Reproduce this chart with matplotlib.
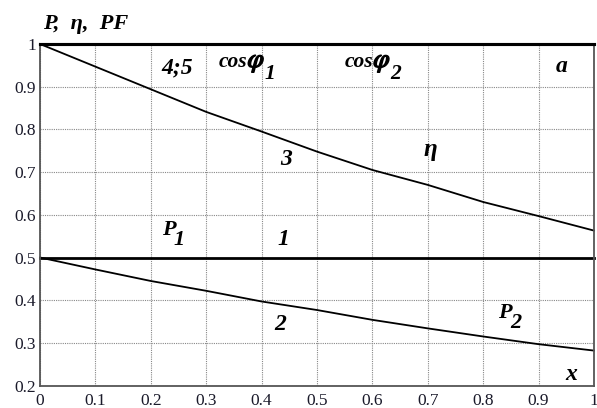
import matplotlib
matplotlib.use("Agg")
import matplotlib.pyplot as plt
import matplotlib.patheffects as pe
from matplotlib.transforms import offset_copy

x = [0.0, 0.1, 0.2, 0.3, 0.4, 0.5, 0.6, 0.7, 0.8, 0.9, 1.0]
eta = [1.0, 0.947, 0.894, 0.841, 0.795, 0.748, 0.705, 0.670, 0.630, 0.597, 0.563]
p2 = [0.5, 0.472, 0.445, 0.422, 0.397, 0.377, 0.354, 0.334, 0.315, 0.297, 0.282]
p1 = [0.5] * len(x)
pf = [1.0] * len(x)

xticks = [0, 0.1, 0.2, 0.3, 0.4, 0.5, 0.6, 0.7, 0.8, 0.9, 1]
xticklabels = ["0", "0.1", "0.2", "0.3", "0.4", "0.5", "0.6", "0.7", "0.8", "0.9", "1"]
yticks = [0.2, 0.3, 0.4, 0.5, 0.6, 0.7, 0.8, 0.9, 1]
yticklabels = ["0.2", "0.3", "0.4", "0.5", "0.6", "0.7", "0.8", "0.9", "1"]

plt.rcParams['mathtext.fontset'] = 'stix'

fig = plt.figure(figsize=(5.97, 4.08), dpi=100)
ax = fig.add_axes([40/597, 1 - 385.6/408, 554/597, (385.6 - 44)/408])

ax.plot(x, eta, color='black', lw=1.3, clip_on=False)
ax.plot(x, p2, color='black', lw=1.3, clip_on=False)
ax.plot(x, p1, color='black', lw=2.0, clip_on=False)
ax.plot(x, pf, color='black', lw=2.2, clip_on=False, zorder=5)

ax.set_xlim(0, 1)
ax.set_ylim(0.2, 1)
ax.set_xticks(xticks)
ax.set_xticklabels(xticklabels)
ax.set_yticks(yticks)
ax.set_yticklabels(yticklabels)
ax.tick_params(length=0, labelsize=12.5, labelcolor='#1a1a2a')
ax.tick_params(axis='x', pad=5)
ax.tick_params(axis='y', pad=3)
for lab in ax.get_xticklabels() + ax.get_yticklabels():
    lab.set_family('Liberation Serif')
ax.grid(True, linestyle=(0, (1, 1)), color='#888888', lw=0.8)
for s in ['left', 'bottom', 'right']:
    ax.spines[s].set_color('#555555')
    ax.spines[s].set_linewidth(1.3)
ax.spines['top'].set_linewidth(2.2)

fp = dict(family='Liberation Serif', weight='bold', style='italic', color='black')
fig.text(43/597, 1 - 29/408, 'P,  η,  PF', fontsize=16, **fp)

fig.canvas.draw()
renderer = fig.canvas.get_renderer()
inv = ax.transData.inverted()
bold_fx = [pe.withStroke(linewidth=1.1, foreground='black')]


def chain_label(xd, yd, pieces):
    """pieces: list of (text, size, dx, dy, bolden) in pixels relative to end of previous piece."""
    cur_x = xd
    for txt, size, dx, dy, bolden in pieces:
        tr = offset_copy(ax.transData, fig=fig, x=dx, y=dy, units='dots')
        t = ax.text(cur_x, yd, txt, fontsize=size, ha='left', va='baseline',
                    transform=tr, **fp)
        if bolden:
            t.set_path_effects(bold_fx)
        bb = t.get_window_extent(renderer=renderer)
        cur_x = inv.transform((bb.x1, bb.y0))[0]


chain_label(0.323, 0.946, [('cos', 15.5, 0, 0, False), (r'$\varphi$', 19, 0, 0, True), ('1', 15.5, -1, -12, False)])
chain_label(0.550, 0.946, [('cos', 15.5, 0, 0, False), (r'$\varphi$', 19, 0, 0, True), ('2', 15.5, -1, -12, False)])
chain_label(0.220, 0.552, [('P', 16, 0, 0, False), ('1', 16, -2, -10, False)])
chain_label(0.827, 0.358, [('P', 16, 0, 0, False), ('2', 16, -2, -10, False)])

ax.text(0.247, 0.930, '4;5', fontsize=17, ha='center', va='baseline', **fp)
ax.text(0.942, 0.934, 'a', fontsize=17, ha='center', va='baseline', **fp)
ax.text(0.444, 0.717, '3', fontsize=17, ha='center', va='baseline', **fp)
ax.text(0.704, 0.738, 'η', fontsize=18, ha='center', va='baseline', **fp)
ax.text(0.440, 0.529, '1', fontsize=17, ha='center', va='baseline', **fp)
ax.text(0.433, 0.330, '2', fontsize=17, ha='center', va='baseline', **fp)
ax.text(0.959, 0.213, 'x', fontsize=17, ha='center', va='baseline', **fp)

fig.savefig('out.png', dpi=100)
